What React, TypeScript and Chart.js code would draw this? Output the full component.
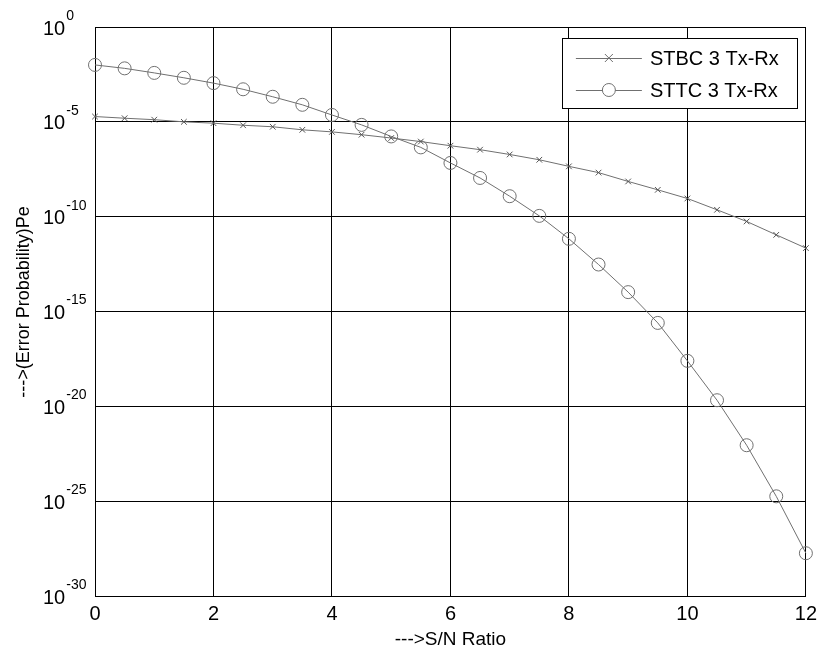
import React, { useEffect, useRef } from "react";
import { Chart, registerables } from "chart.js";

Chart.register(...registerables);

const snrValues = [0, 0.5, 1, 1.5, 2, 2.5, 3, 3.5, 4, 4.5, 5, 5.5, 6, 6.5, 7, 7.5, 8, 8.5, 9, 9.5, 10, 10.5, 11, 11.5, 12];
const stbcPe = [1.9e-5, 1.55e-5, 1.3e-5, 1.0e-5, 8.5e-6, 6.6e-6, 5.5e-6, 3.8e-6, 2.95e-6, 2.1e-6, 1.4e-6, 9.1e-7, 5.5e-7, 3.4e-7, 1.9e-7, 1.0e-7, 4.5e-8, 2.1e-8, 7.2e-9, 2.6e-9, 9.1e-10, 2.3e-10, 5.6e-11, 1.1e-11, 2.2e-12];
const sttcPe = [1.0e-2, 6.6e-3, 3.8e-3, 2.1e-3, 1.1e-3, 5.2e-4, 2.1e-4, 7.9e-5, 2.3e-5, 6.9e-6, 1.7e-6, 4.5e-7, 6.8e-8, 1.1e-8, 1.2e-9, 1.1e-10, 6.8e-12, 3.0e-13, 1.05e-14, 2.5e-16, 2.5e-18, 2.1e-20, 8.9e-23, 1.8e-25, 1.8e-28];
const xTickValues = [0, 2, 4, 6, 8, 10, 12];
const yTickExponents = [0, -5, -10, -15, -20, -25, -30];
const seriesLabels = ["STBC 3 Tx-Rx", "STTC 3 Tx-Rx"];
const xAxisTitle = "--->S/N Ratio";
const yAxisTitle = "--->(Error Probability)Pe";

const FONT = '"Liberation Sans", Arial, Helvetica, sans-serif';
const LINE_COLOR = "#707070";

const customDraw = {
  id: "customDraw",
  afterDraw(chart: any) {
    const ctx = chart.ctx as CanvasRenderingContext2D;
    const yScale = chart.scales.y;
    const area = chart.chartArea;
    ctx.save();
    // y tick labels with superscript exponents
    ctx.fillStyle = "#000";
    ctx.textBaseline = "middle";
    ctx.textAlign = "left";
    for (const e of yTickExponents) {
      const py = yScale.getPixelForValue(Math.pow(10, e));
      ctx.font = `20px ${FONT}`;
      const baseX = 43;
      ctx.fillText("10", baseX, py + 2);
      const w = ctx.measureText("10").width;
      ctx.font = `14px ${FONT}`;
      ctx.fillText(String(e), baseX + w + 1, py - 11);
    }
    // y axis title
    ctx.save();
    ctx.translate(24, 302);
    ctx.rotate(-Math.PI / 2);
    ctx.textAlign = "center";
    ctx.textBaseline = "middle";
    ctx.font = `18px ${FONT}`;
    ctx.fillText(yAxisTitle, 0, 0);
    ctx.restore();

    // legend box
    const bx = area.right - 244;
    const by = area.top + 11;
    const bw = 235;
    const bh = 70;
    ctx.fillStyle = "#fff";
    ctx.fillRect(bx, by, bw, bh);
    ctx.strokeStyle = "#000";
    ctx.lineWidth = 1;
    ctx.strokeRect(Math.round(bx) + 0.5, Math.round(by) + 0.5, bw, bh);
    chart.data.datasets.forEach((ds: any, i: number) => {
      const ry = by + 20 + i * 32;
      const lx0 = bx + 14;
      const lx1 = bx + 80;
      ctx.strokeStyle = ds.borderColor;
      ctx.lineWidth = 1;
      ctx.beginPath();
      ctx.moveTo(lx0, Math.round(ry) + 0.5);
      ctx.lineTo(lx1, Math.round(ry) + 0.5);
      ctx.stroke();
      const mx = (lx0 + lx1) / 2;
      const r = ds.pointRadius;
      ctx.beginPath();
      if (ds.pointStyle === "circle") {
        ctx.fillStyle = "#fff";
        ctx.arc(mx, ry, r, 0, Math.PI * 2);
        ctx.fill();
        ctx.stroke();
      } else {
        ctx.moveTo(mx - r, ry - r);
        ctx.lineTo(mx + r, ry + r);
        ctx.moveTo(mx + r, ry - r);
        ctx.lineTo(mx - r, ry + r);
        ctx.stroke();
      }
      ctx.fillStyle = "#000";
      ctx.font = `20px ${FONT}`;
      ctx.textAlign = "left";
      ctx.textBaseline = "middle";
      ctx.fillText(ds.label, bx + 88, ry + 1);
    });
    ctx.restore();
  },
};

export default function App() {
  const canvasRef = useRef<HTMLCanvasElement | null>(null);

  useEffect(() => {
    const canvas = canvasRef.current;
    if (!canvas) return;
    const chart = new Chart(canvas, {
      type: "line",
      data: {
        datasets: [
          {
            label: seriesLabels[0],
            data: snrValues.map((x, i) => ({ x, y: stbcPe[i] })),
            borderColor: LINE_COLOR,
            backgroundColor: "transparent",
            borderWidth: 1,
            pointStyle: "crossRot",
            pointRadius: 4,
            pointBorderWidth: 1,
            pointBorderColor: "#555",
            tension: 0,
            clip: false,
          },
          {
            label: seriesLabels[1],
            data: snrValues.map((x, i) => ({ x, y: sttcPe[i] })),
            borderColor: LINE_COLOR,
            backgroundColor: "transparent",
            borderWidth: 1,
            pointStyle: "circle",
            pointRadius: 6.5,
            pointBorderWidth: 1,
            pointBorderColor: LINE_COLOR,
            pointBackgroundColor: "transparent",
            tension: 0,
            clip: false,
          },
        ],
      },
      options: {
        responsive: false,
        animation: false,
        devicePixelRatio: 1,
        layout: { padding: { top: 27, right: 7, left: 0, bottom: 0 } },
        plugins: {
          legend: { display: false },
          tooltip: { enabled: false },
        },
        scales: {
          x: {
            type: "linear",
            min: 0,
            max: 12,
            afterBuildTicks: (scale: any) => {
              scale.ticks = xTickValues.map((v) => ({ value: v }));
            },
            afterFit: (scale: any) => {
              scale.height = 58;
            },
            grid: { color: "#000", lineWidth: 1, drawTicks: false },
            border: { display: true, color: "#000", width: 1 },
            ticks: {
              color: "#000",
              font: { family: FONT, size: 20 },
              padding: 6,
              maxRotation: 0,
              autoSkip: false,
            },
            title: {
              display: true,
              text: xAxisTitle,
              color: "#000",
              font: { family: FONT, size: 19 },
              padding: { top: 0, bottom: 3 },
            },
          },
          y: {
            type: "logarithmic",
            min: 1e-30,
            max: 1,
            afterBuildTicks: (scale: any) => {
              scale.ticks = yTickExponents.map((e) => ({ value: Math.pow(10, e) }));
            },
            afterFit: (scale: any) => {
              scale.width = 95;
            },
            grid: { color: "#000", lineWidth: 1, drawTicks: false },
            border: { display: true, color: "#000", width: 1 },
            ticks: { display: false },
          },
        },
      },
      plugins: [customDraw],
    });
    return () => chart.destroy();
  }, []);

  return (
    <div style={{ position: "absolute", left: 0, top: 0, width: 823, height: 654, background: "#fff" }}>
      <canvas ref={canvasRef} width={823} height={654} style={{ display: "block" }} />
    </div>
  );
}
